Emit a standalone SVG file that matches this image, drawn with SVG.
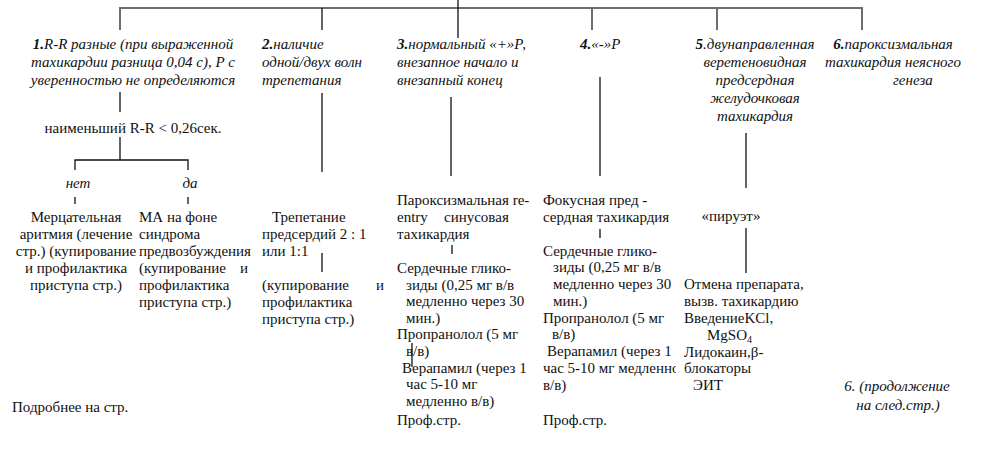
<svg xmlns="http://www.w3.org/2000/svg" width="983" height="449" viewBox="0 0 983 449">
<defs>
<style>
.h{font-family:"Liberation Serif","Times New Roman",serif;font-style:italic;font-size:15px;fill:#111}
.t{font-family:"Liberation Serif","Times New Roman",serif;font-size:15px;fill:#111}
.b{font-weight:bold}
.c{text-anchor:middle}
.ln{stroke:#111;stroke-width:1.3;fill:none}
.gl{stroke:#6e6e6e;stroke-width:2;fill:none}
</style>
<clipPath id="clip4"><rect x="530" y="360" width="146" height="20"/></clipPath>
</defs>
<rect width="983" height="449" fill="#fff"/>
<g id="connectors">
<path class="gl" d="M120 30V8H862V30"/>
<path class="gl" d="M592 8V30M717 8V30"/>
<path class="ln" d="M322 8V30M458 0V38"/>
<path class="ln" d="M120 92V112M120 137V160M75 170V160H188V170M75 197V204M188 197V204"/>
<path class="ln" d="M322 93V172M322 253V272"/>
<path class="ln" d="M451 97V176M452 245V254M412 343V367"/>
<path class="ln" d="M600 77V176M600 229V238"/>
<path class="ln" d="M746 133V188M746 228V273"/>
</g>
<g id="h1">
<text class="h c" x="133" y="49"><tspan class="b">1.</tspan>R-R разные (при выраженной</text>
<text class="h c" x="133" y="67">тахикардии разница 0,04 с), Р с</text>
<text class="h c" x="133" y="85">уверенностью не определяются</text>
</g>
<g id="rr">
<text class="t c" x="133" y="133">наименьший R-R &lt; 0,26сек.</text>
</g>
<g id="net"><text class="h c" x="78" y="188">нет</text></g>
<g id="da"><text class="h c" x="190" y="188">да</text></g>
<g id="ma">
<text class="t c" x="76" y="222">Мерцательная</text>
<text class="t c" x="76" y="239">аритмия (лечение</text>
<text class="t c" x="76" y="256">стр.) (купирование</text>
<text class="t c" x="76" y="273">и профилактика</text>
<text class="t c" x="76" y="290">приступа стр.)</text>
</g>
<g id="ma-wpw">
<text class="t" x="139" y="222">МА на фоне</text>
<text class="t" x="139" y="239">синдрома</text>
<text class="t" x="139" y="256">предвозбуждения</text>
<text class="t" x="139" y="273">(купирование<tspan x="240">и</tspan></text>
<text class="t" x="139" y="290">профилактика</text>
<text class="t" x="139" y="307">приступа стр.)</text>
</g>
<g id="h2">
<text class="h" x="262" y="49"><tspan class="b">2.</tspan>наличие</text>
<text class="h" x="262" y="67">одной/двух волн</text>
<text class="h" x="262" y="85">трепетания</text>
</g>
<g id="flutter">
<text class="t" x="272" y="222">Трепетание</text>
<text class="t" x="262" y="239">предсердий 2 : 1</text>
<text class="t" x="262" y="256">или 1:1</text>
</g>
<g id="flutter-tx">
<text class="t" x="262" y="290">(купирование<tspan x="376">и</tspan></text>
<text class="t" x="262" y="307">профилактика</text>
<text class="t" x="262" y="324">приступа стр.)</text>
</g>
<g id="h3">
<text class="h" x="397" y="49"><tspan class="b">3.</tspan>нормальный «+»Р,</text>
<text class="h" x="397" y="67">внезапное начало и</text>
<text class="h" x="397" y="85">внезапный конец</text>
</g>
<g id="reentry">
<text class="t" x="397" y="205">Пароксизмальная re-</text>
<text class="t" x="397" y="222">entry<tspan x="444">синусовая</tspan></text>
<text class="t" x="397" y="239">тахикардия</text>
</g>
<g id="tx3">
<text class="t" x="397" y="273">Сердечные глико-</text>
<text class="t" x="406" y="290">зиды (0,25 мг в/в</text>
<text class="t" x="406" y="306">медленно через 30</text>
<text class="t" x="406" y="323">мин.)</text>
<text class="t" x="397" y="339">Пропранолол (5 мг</text>
<text class="t" x="406" y="356">в/в)</text>
<text class="t" x="402" y="373">Верапамил (через 1</text>
<text class="t" x="406" y="389">час 5-10 мг</text>
<text class="t" x="406" y="406">медленно в/в)</text>
<text class="t" x="397" y="425">Проф.стр.</text>
</g>
<g id="h4">
<text class="h" x="580" y="49"><tspan class="b">4.</tspan>«-»Р</text>
</g>
<g id="focal">
<text class="t" x="543" y="205">Фокусная пред -</text>
<text class="t" x="543" y="222">сердная тахикардия</text>
</g>
<g id="tx4">
<text class="t" x="543" y="256">Сердечные глико-</text>
<text class="t" x="553" y="272">зиды (0,25 мг в/в</text>
<text class="t" x="553" y="289">медленно через 30</text>
<text class="t" x="553" y="306">мин.)</text>
<text class="t" x="543" y="323">Пропранолол (5 мг</text>
<text class="t" x="552" y="339">в/в)</text>
<text class="t" x="547" y="356">Верапамил (через 1</text>
<text class="t" x="543" y="373" clip-path="url(#clip4)">час 5-10 мг медленно</text>
<text class="t" x="543" y="390">в/в)</text>
<text class="t" x="543" y="425">Проф.стр.</text>
</g>
<g id="h5">
<text class="h c" x="755" y="49"><tspan class="b">5</tspan>.двунаправленная</text>
<text class="h c" x="755" y="67">веретеновидная</text>
<text class="h c" x="755" y="85">предсердная</text>
<text class="h c" x="755" y="103">желудочковая</text>
<text class="h c" x="755" y="121">тахикардия</text>
</g>
<g id="pirouette">
<text class="t c" x="731" y="221">«пируэт»</text>
</g>
<g id="tx5">
<text class="t" x="684" y="289">Отмена препарата,</text>
<text class="t" x="684" y="306">вызв. тахикардию</text>
<text class="t" x="684" y="323">ВведениеKCl,</text>
<text class="t" x="707" y="340">MgSO<tspan font-size="10" dy="3">4</tspan></text>
<text class="t" x="684" y="357">Лидокаин,β-</text>
<text class="t" x="684" y="373">блокаторы</text>
<text class="t" x="693" y="390">ЭИТ</text>
</g>
<g id="h6">
<text class="h c" x="893" y="49"><tspan class="b">6.</tspan>пароксизмальная</text>
<text class="h c" x="893" y="67">тахикардия неясного</text>
<text class="h" x="893" y="85">генеза</text>
</g>
<g id="cont">
<text class="h c" x="897" y="391">6. (продолжение</text>
<text class="h c" x="898" y="410">на след.стр.)</text>
</g>
<g id="more">
<text class="t" x="12" y="412">Подробнее на стр.</text>
</g>
</svg>
